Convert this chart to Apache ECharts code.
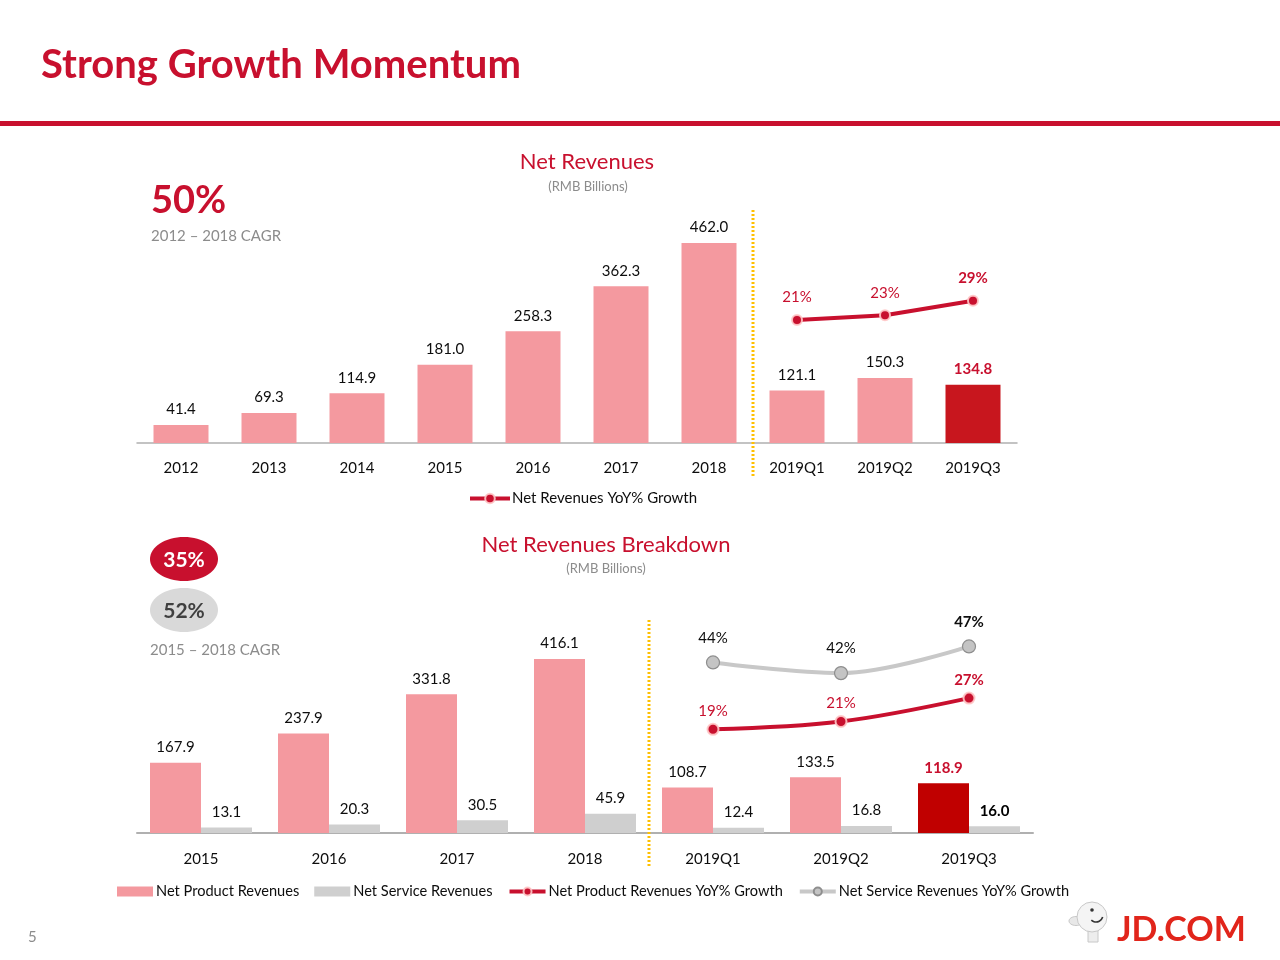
<!DOCTYPE html>
<html>
<head>
<meta charset="utf-8">
<script src="https://cdn.jsdelivr.net/npm/echarts@6/dist/echarts.min.js"></script>
<style>
  html, body { margin: 0; padding: 0; background: #fff; }
  #main { width: 1280px; height: 960px; }
</style>
</head>
<body>
<div id="main"></div>
<script>
// ---- Data ----
const topCategories = ['2012', '2013', '2014', '2015', '2016', '2017', '2018', '2019Q1', '2019Q2', '2019Q3'];
const netRevenues = [41.4, 69.3, 114.9, 181.0, 258.3, 362.3, 462.0, 121.1, 150.3, 134.8];
const netRevenueGrowth = [null, null, null, null, null, null, null, 21, 23, 29];

const bottomCategories = ['2015', '2016', '2017', '2018', '2019Q1', '2019Q2', '2019Q3'];
const productRevenues = [167.9, 237.9, 331.8, 416.1, 108.7, 133.5, 118.9];
const serviceRevenues = [13.1, 20.3, 30.5, 45.9, 12.4, 16.8, 16.0];
const productGrowth = [null, null, null, null, 19, 21, 27];
const serviceGrowth = [null, null, null, null, 44, 42, 47];

// ---- Styling ----
const FONT = 'Lato';
const RED = '#C8102E';
const PINK = '#F4999F';
const GREY_BAR = '#CFCFCF';
const GREY_TXT = '#8C8C8C';

const fmt1 = p => Number(p.value).toFixed(1);
const fmtPct = p => p.value + '%';

function lastHighlight(arr, extra) {
  return arr.map((v, i) => (i === arr.length - 1 && v != null) ? Object.assign({ value: v }, extra) : v);
}

const chart = echarts.init(document.getElementById('main'), null, { renderer: 'canvas' });

const baseLabel = { show: true, position: 'top', distance: 8, color: '#0D0D0D', fontSize: 15, fontFamily: FONT, formatter: fmt1 };

const option = {
  animation: false,
  backgroundColor: '#fff',
  textStyle: { fontFamily: FONT },
  grid: [
    { left: 137, width: 880, top: 243, height: 200 },
    { left: 137, width: 896, top: 633, height: 200 }
  ],
  xAxis: [
    { type: 'category', gridIndex: 0, data: topCategories,
      axisLine: { lineStyle: { color: '#B0B0B0', width: 1.5 } }, axisTick: { show: false },
      axisLabel: { color: '#0D0D0D', fontSize: 15, fontFamily: FONT, margin: 18 } },
    { type: 'category', gridIndex: 1, data: bottomCategories,
      axisLine: { lineStyle: { color: '#B0B0B0', width: 2 } }, axisTick: { show: false },
      axisLabel: { color: '#0D0D0D', fontSize: 15, fontFamily: FONT, margin: 19 } }
  ],
  yAxis: [
    { type: 'value', gridIndex: 0, min: 0, max: 462, show: false, splitLine: { show: false } },
    { type: 'value', gridIndex: 0, min: -29.8, max: 52.85, show: false, splitLine: { show: false } },
    { type: 'value', gridIndex: 1, min: 0, max: 478.5, show: false, splitLine: { show: false } },
    { type: 'value', gridIndex: 1, min: -7.59, max: 43.69, show: false, splitLine: { show: false } },
    { type: 'value', gridIndex: 1, min: 12.06, max: 49.51, show: false, splitLine: { show: false } }
  ],
  legend: [
    { left: 463, top: 486, itemWidth: 40, itemHeight: 12, itemGap: 10,
      lineStyle: { width: 4 },
      textStyle: { color: '#0D0D0D', fontSize: 15, fontFamily: FONT, padding: [0, 0, 0, -3] },
      data: ['Net Revenues YoY% Growth'] },
    { left: 112, top: 879, itemWidth: 36, itemHeight: 10, itemGap: 15,
      lineStyle: { width: 4 },
      textStyle: { color: '#0D0D0D', fontSize: 14.6, fontFamily: FONT, padding: [0, 0, 0, -2] },
      data: [
        { name: 'Net Product Revenues', icon: 'rect' },
        { name: 'Net Service Revenues', icon: 'rect' },
        'Net Product Revenues YoY% Growth',
        'Net Service Revenues YoY% Growth'
      ] }
  ],
  series: [
    { name: 'Net Revenues', type: 'bar', xAxisIndex: 0, yAxisIndex: 0, barWidth: 55,
      itemStyle: { color: PINK },
      label: baseLabel,
      data: lastHighlight(netRevenues, { itemStyle: { color: '#C8161E' }, label: { color: RED, fontWeight: 'bold' } }) },
    { name: 'Net Revenues YoY% Growth', type: 'line', xAxisIndex: 0, yAxisIndex: 1, z: 5,
      symbol: 'circle', symbolSize: 10,
      lineStyle: { color: RED, width: 4 },
      itemStyle: { color: RED, borderColor: 'rgba(255,200,200,0.9)', borderWidth: 2 },
      label: { show: true, position: 'top', distance: 9, color: RED, fontSize: 15, fontFamily: FONT, formatter: fmtPct },
      data: lastHighlight(netRevenueGrowth, { label: { fontWeight: 'bold' } }) },

    { name: 'Net Product Revenues', type: 'bar', xAxisIndex: 1, yAxisIndex: 2, barWidth: 51, barGap: '0%',
      itemStyle: { color: PINK },
      label: baseLabel,
      data: lastHighlight(productRevenues, { itemStyle: { color: '#C00000' }, label: { color: RED, fontWeight: 'bold' } }) },
    { name: 'Net Service Revenues', type: 'bar', xAxisIndex: 1, yAxisIndex: 2, barWidth: 51, barGap: '0%',
      itemStyle: { color: GREY_BAR },
      label: baseLabel,
      data: lastHighlight(serviceRevenues, { label: { fontWeight: 'bold', color: '#000' } }) },
    { name: 'Net Product Revenues YoY% Growth', type: 'line', xAxisIndex: 1, yAxisIndex: 3, z: 5,
      smooth: 0.35, symbol: 'circle', symbolSize: 11,
      lineStyle: { color: RED, width: 4 },
      itemStyle: { color: RED, borderColor: 'rgba(255,200,200,0.9)', borderWidth: 2 },
      label: { show: true, position: 'top', distance: 4, color: RED, fontSize: 15, fontFamily: FONT, formatter: fmtPct },
      data: lastHighlight(productGrowth, { label: { fontWeight: 'bold' } }) },
    { name: 'Net Service Revenues YoY% Growth', type: 'line', xAxisIndex: 1, yAxisIndex: 4, z: 5,
      smooth: 0.35, symbol: 'circle', symbolSize: 13,
      lineStyle: { color: '#C8C8C8', width: 4 },
      itemStyle: { color: '#C4C4C4', borderColor: '#8E8E8E', borderWidth: 1.2 },
      label: { show: true, position: 'top', distance: 10, color: '#0D0D0D', fontSize: 15, fontFamily: FONT, formatter: fmtPct },
      data: lastHighlight(serviceGrowth, { label: { fontWeight: 'bold' } }) }
  ]
};

chart.setOption(option);

// ---- Decorations (text, rules, badges, separators) ----
const xTopA = chart.convertToPixel({ xAxisIndex: 0 }, 6);
const xTopB = chart.convertToPixel({ xAxisIndex: 0 }, 7);
const xBotA = chart.convertToPixel({ xAxisIndex: 1 }, 3);
const xBotB = chart.convertToPixel({ xAxisIndex: 1 }, 4);
const sepTop = (xTopA + xTopB) / 2;
const sepBot = (xBotA + xBotB) / 2;

function txt(id, text, x, y, opts) {
  return { type: 'text', id, z: 10, style: Object.assign({
    text, x, y, fontFamily: FONT, fontSize: 15, fill: '#000',
    textAlign: 'left', textVerticalAlign: 'middle' }, opts || {}) };
}

const elements = [
  txt('title', 'Strong Growth Momentum', 41, 65, { fontSize: 40, fontWeight: 'bold', fill: RED }),
  { type: 'rect', id: 'rule', shape: { x: 0, y: 121, width: 1280, height: 5 }, style: { fill: RED } },

  txt('t1', 'Net Revenues', 587, 162, { fontSize: 22, fill: RED, textAlign: 'center' }),
  txt('t1s', '(RMB Billions)', 588, 187, { fontSize: 13, fill: GREY_TXT, textAlign: 'center' }),
  txt('cagr1', '50%', 151, 201, { fontSize: 38, fontWeight: 'bold', fill: RED }),
  txt('cagr1s', '2012 – 2018 CAGR', 151, 236, { fontSize: 15, fill: GREY_TXT }),

  txt('t2', 'Net Revenues Breakdown', 606, 545, { fontSize: 22, fill: RED, textAlign: 'center' }),
  txt('t2s', '(RMB Billions)', 606, 569, { fontSize: 13, fill: GREY_TXT, textAlign: 'center' }),
  { type: 'ellipse', id: 'b1', shape: { cx: 184, cy: 559, rx: 34, ry: 22 }, style: { fill: RED } },
  txt('b1t', '35%', 184, 560, { fontSize: 21, fontWeight: 'bold', fill: '#fff', textAlign: 'center' }),
  { type: 'ellipse', id: 'b2', shape: { cx: 184, cy: 610, rx: 34, ry: 22 }, style: { fill: '#D9D9D9' } },
  txt('b2t', '52%', 184, 611, { fontSize: 21, fontWeight: 'bold', fill: '#404040', textAlign: 'center' }),
  txt('cagr2s', '2015 – 2018 CAGR', 150, 650, { fontSize: 15, fill: GREY_TXT }),

  { type: 'line', id: 'sep1', z: 3, shape: { x1: sepTop, y1: 210, x2: sepTop, y2: 476 },
    style: { stroke: '#FFC000', lineWidth: 3, lineDash: [2, 2] } },
  { type: 'line', id: 'sep2', z: 3, shape: { x1: sepBot, y1: 620, x2: sepBot, y2: 868 },
    style: { stroke: '#FFC000', lineWidth: 3, lineDash: [2, 2] } },

  txt('page', '5', 28, 937, { fontSize: 15, fill: GREY_TXT }),

  // logo mascot (simplified)
  { type: 'ellipse', id: 'lg2', shape: { cx: 1076, cy: 921, rx: 7, ry: 4.5 }, style: { fill: '#E8E8E8', stroke: '#C8C8C8', lineWidth: 1 } },
  { type: 'rect', id: 'lg5', shape: { x: 1088, y: 930, width: 10, height: 12 }, style: { fill: '#EDEDED', stroke: '#C8C8C8', lineWidth: 1 } },
  { type: 'circle', id: 'lg1', shape: { cx: 1092, cy: 917, r: 15 }, style: { fill: '#F4F4F4', stroke: '#C8C8C8', lineWidth: 1 } },
  { type: 'circle', id: 'lg3', shape: { cx: 1092, cy: 910, r: 1.8 }, style: { fill: '#333' } },
  { type: 'arc', id: 'lg4', shape: { cx: 1096, cy: 915, r: 7, startAngle: 0.3, endAngle: 2.3 }, style: { stroke: '#333', lineWidth: 1.6, fill: null } },
  txt('logo', 'JD.COM', 1117, 930, { fontSize: 34, fontWeight: 'bold', fill: '#E1251B' })
];

chart.setOption({ graphic: { elements } });
</script>
</body>
</html>
